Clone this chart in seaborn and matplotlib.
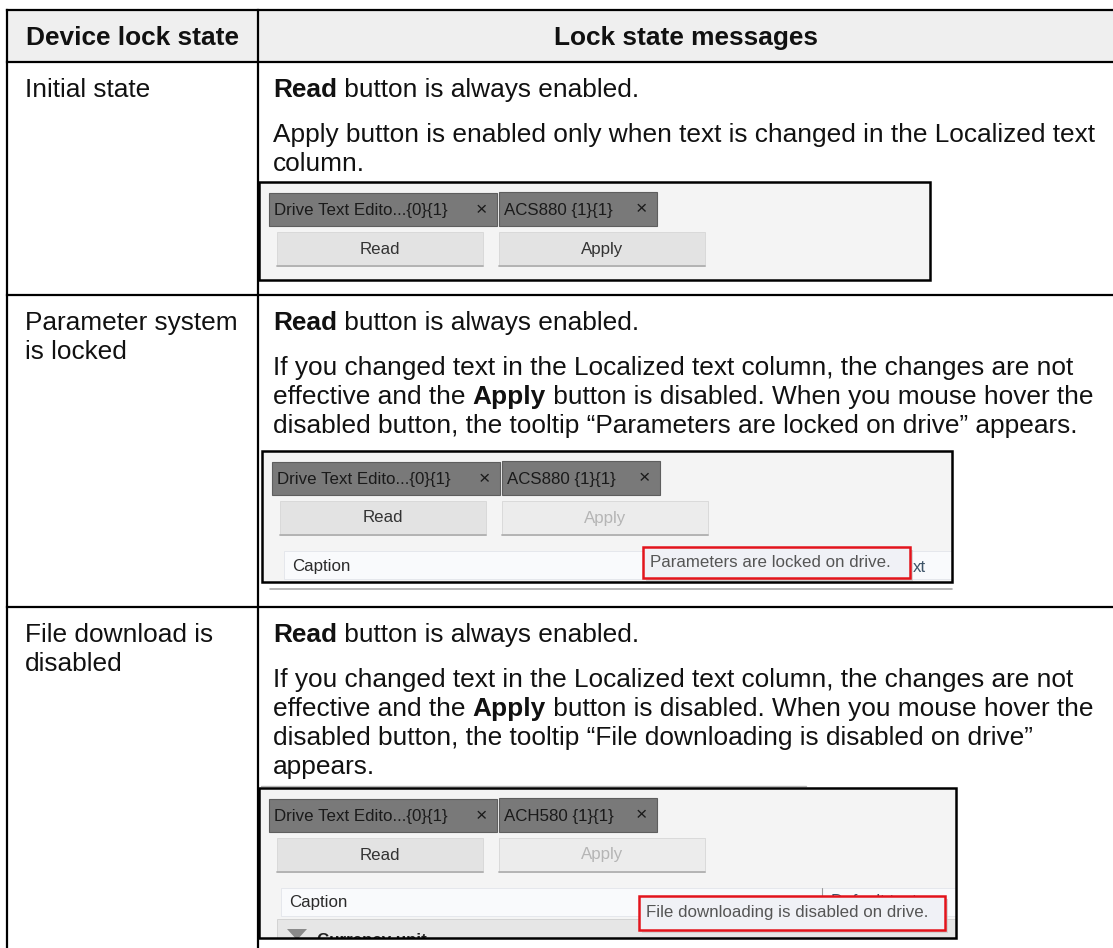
import seaborn as sns
import matplotlib.pyplot as plt
from matplotlib.patches import Rectangle, Polygon

# table content
headers = ["Device lock state", "Lock state messages"]
states = ["Initial state", "Parameter system\nis locked", "File download is\ndisabled"]
messages = [
    ["**Read** button is always enabled.",
     "Apply button is enabled only when text is changed in the Localized text\ncolumn."],
    ["**Read** button is always enabled.",
     "If you changed text in the Localized text column, the changes are not\n"
     "effective and the **Apply** button is disabled. When you mouse hover the\n"
     "disabled button, the tooltip \u201cParameters are locked on drive\u201d appears."],
    ["**Read** button is always enabled.",
     "If you changed text in the Localized text column, the changes are not\n"
     "effective and the **Apply** button is disabled. When you mouse hover the\n"
     "disabled button, the tooltip \u201cFile downloading is disabled on drive\u201d\n"
     "appears."],
]
tab_labels = [
    ["Drive Text Edito...{0}{1}", "ACS880 {1}{1}"],
    ["Drive Text Edito...{0}{1}", "ACS880 {1}{1}"],
    ["Drive Text Edito...{0}{1}", "ACH580 {1}{1}"],
]
button_labels = ["Read", "Apply"]
apply_enabled = [True, False, False]
tooltips = [None, "Parameters are locked on drive.", "File downloading is disabled on drive."]

# layout in pixels
W, H = 1113, 948
col_x = [7, 258, W]
row_y = [10, 62, 295, 607]
shot_boxes = [(259, 182, 671, 98), (262, 451, 690, 131), (259, 788, 697, 150)]
tooltip_boxes = [None, (381, 96, 267, 31), (380, 108, 306, 34)]

BODY = 18.9
LINE = 29
PARA = 45
SMALL = 12.2

sns.set_theme(style="white")
plt.rcParams['font.family'] = ['Liberation Sans', 'DejaVu Sans']

fig = plt.figure(figsize=(W / 100, H / 100), dpi=100)
ax = fig.add_axes([0, 0, 1, 1])
ax.set_xlim(0, W)
ax.set_ylim(H, 0)
ax.axis('off')
renderer = fig.canvas.get_renderer()


def rich_line(x, y, line):
    # **word** marks a bold run
    for k, part in enumerate(line.split('**')):
        if not part:
            continue
        t = ax.text(x, y, part, fontsize=BODY, fontweight='bold' if k % 2 else 'normal',
                    va='baseline', ha='left', color='#111111')
        x += t.get_window_extent(renderer).width


def draw_shot(r):
    bx, by, bw, bh = shot_boxes[r]
    clip = Rectangle((bx, by), bw, bh, transform=ax.transData)

    def add(p):
        ax.add_patch(p)
        p.set_clip_path(clip)
        return p

    def txt(*args, clip_to=clip, **kw):
        t = ax.text(*args, clip_on=True, **kw)
        t.set_clip_path(clip_to)
        return t

    add(Rectangle((bx, by), bw, bh, fc='#f4f4f4', ec='none', zorder=2))

    # tabs
    tabs = [(bx + 10, by + 11, 228, 33), (bx + 240, by + 10, 158, 34)]
    for (tx, ty, tw, th), lab in zip(tabs, tab_labels[r]):
        add(Rectangle((tx, ty), tw, th, fc='#797979', ec='#5e5e5e', lw=0.8, zorder=3))
        txt(tx + 5, ty + th / 2 + 1, lab, fontsize=SMALL, va='center', color='#1a1a1a', zorder=4)
        txt(tx + tw - 16, ty + th / 2 + 1, '\u00d7', fontsize=14, va='center', ha='center',
            color='#1a1a1a', zorder=4)

    # buttons
    for k, (label, off) in enumerate(zip(button_labels, [18, 240])):
        enabled = k == 0 or apply_enabled[r]
        add(Rectangle((bx + off, by + 50), 206, 34, fc='#e3e3e3' if enabled else '#ececec',
                      ec='#d6d6d6', lw=0.6, zorder=3))
        ax.plot([bx + off, bx + off + 206], [by + 84, by + 84], color='#b0b0b0', lw=1.3, zorder=4)
        txt(bx + off + 103, by + 67, label, ha='center', va='center', fontsize=SMALL,
            color='#333333' if enabled else '#b5b5b5', zorder=5)

    if tooltips[r]:
        # grid caption bar behind the tooltip
        add(Rectangle((bx + 22, by + 100), bw - 22, 28, fc='#f9fafc', ec='#e2e5ea', lw=0.6, zorder=3))
        txt(bx + 30, by + 115, 'Caption', fontsize=SMALL, va='center', color='#2b2b2b', zorder=4)
        tx, ty, tw, th = tooltip_boxes[r]
        if r == 1:
            txt(bx + tx + tw + 3, by + 116, 'xt', fontsize=SMALL, va='center', ha='left',
                color='#3e5468', zorder=4)
        else:
            ax.plot([bx + 563, bx + 563], [by + 100, by + 118], color='#9a9a9a', lw=0.8, zorder=4)
            top_clip = Rectangle((bx + 565, by + 100), 140, ty - 100, transform=ax.transData)
            txt(bx + 572, by + 114, 'Default text', fontsize=SMALL, va='center', color='#3e5468',
                zorder=4, clip_to=top_clip)
            add(Rectangle((bx + 18, by + 131), bw - 18, 30, fc='#e6e6e6', ec='#cfcfcf', lw=0.6, zorder=3))
            add(Polygon([[bx + 28, by + 141], [bx + 48, by + 141], [bx + 38, by + 152]],
                        closed=True, fc='#8a8a8a', ec='none', zorder=4))
            txt(bx + 58, by + 157, 'Currency unit', fontsize=SMALL, fontweight='bold', va='baseline',
                color='#222222', zorder=4)
        add(Rectangle((bx + tx + 3, by + ty + 3), tw, th, fc='#c9c9c9', ec='none', alpha=0.7, zorder=5))
        add(Rectangle((bx + tx, by + ty), tw, th, fc='#f0f1f6', ec='#e3141c', lw=1.8, zorder=6))
        txt(bx + tx + 7, by + ty + th / 2, tooltips[r], fontsize=SMALL, va='center',
            color='#555555', zorder=7)

    if r == 1:
        ax.plot([bx + 8, bx + bw], [by + bh + 7, by + bh + 7], color='#a8a8a8', lw=1.2, zorder=2)
    if r == 2:
        ax.plot([bx + 2, bx + 547], [by - 2, by - 2], color='#b8b8b8', lw=1.0, zorder=2)

    ax.add_patch(Rectangle((bx, by), bw, bh, fc='none', ec='black', lw=1.8, zorder=9))


# header row
ax.add_patch(Rectangle((col_x[0], row_y[0]), W - col_x[0], row_y[1] - row_y[0],
                       fc='#efefef', ec='none', zorder=0))
for i, h in enumerate(headers):
    ax.text((col_x[i] + col_x[i + 1]) / 2, 45, h, ha='center', va='baseline',
            fontsize=BODY, fontweight='bold', color='#111111')

# body rows
for r in range(len(states)):
    y0 = row_y[r + 1] + 35
    for j, s in enumerate(states[r].split('\n')):
        ax.text(25, y0 + j * LINE, s, fontsize=BODY, va='baseline', color='#111111')
    y = y0
    for para in messages[r]:
        for ln in para.split('\n'):
            rich_line(273, y, ln)
            y += LINE
        y += PARA - LINE
    draw_shot(r)

# grid lines
for yy in row_y:
    ax.plot([col_x[0], W], [yy, yy], color='black', lw=1.6, zorder=10, solid_capstyle='projecting')
for xx in col_x[:2]:
    ax.plot([xx, xx], [row_y[0], H], color='black', lw=1.6, zorder=1, solid_capstyle='projecting')

fig.savefig('out.png', dpi=100)
